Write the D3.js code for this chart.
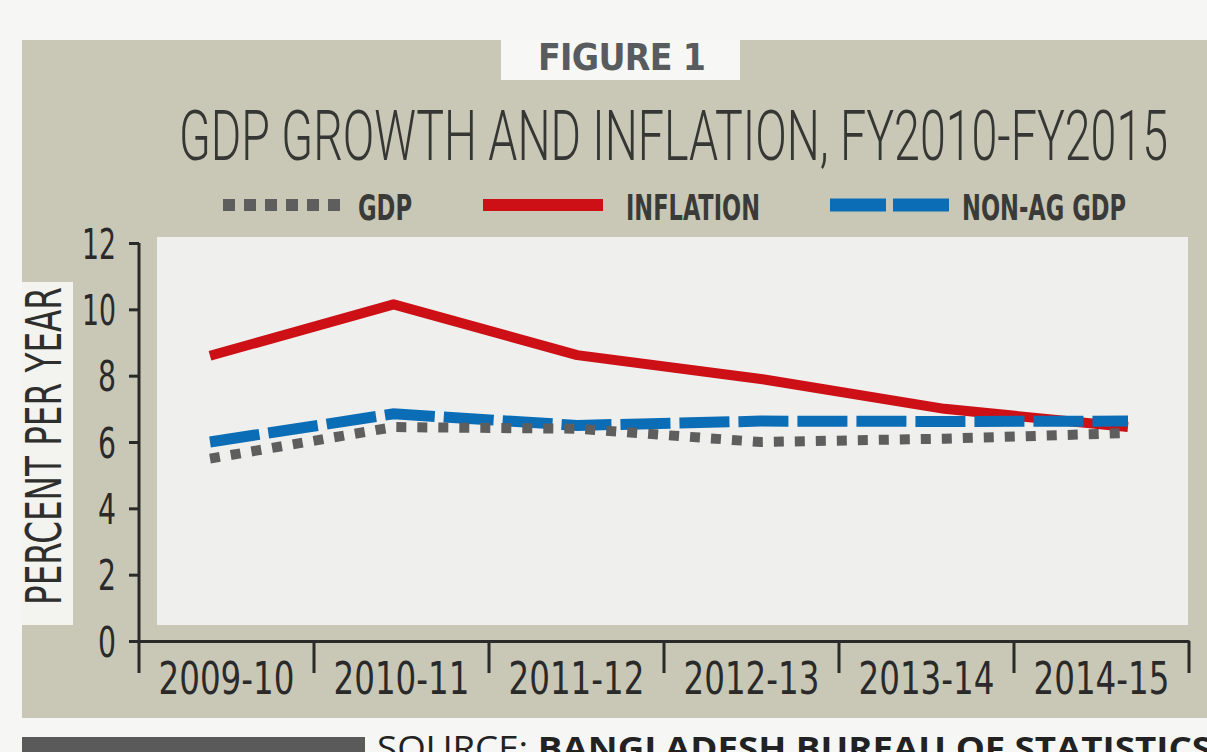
<!DOCTYPE html>
<html>
<head>
<meta charset="utf-8">
<script src="https://d3js.org/d3.v7.min.js"></script>
<style>
    body { margin: 0; background: #f6f6f5; }
    svg { display: block; }
</style>
</head>
<body>
<div id="chart"></div>
<script>
var width = 1207;
var height = 752;

// data
var years = ["2009-10", "2010-11", "2011-12", "2012-13", "2013-14", "2014-15"];
var gdp = [5.5, 6.45, 6.4, 6.0, 6.1, 6.27];
var inflation = [8.6, 10.15, 8.62, 7.9, 7.0, 6.45];
var nonAgGdp = [6.0, 6.85, 6.5, 6.63, 6.62, 6.63];
var yTicks = [0, 2, 4, 6, 8, 10, 12];

var narrow = "'Liberation Sans Narrow', 'DejaVu Sans Condensed', 'Roboto', sans-serif";
var svgElement;

function main() {
    svgElement = d3.select("#chart").append("svg")
        .attr("width", width)
        .attr("height", height);

    drawBackground();
    drawHeader();
    drawLegend();
    drawAxes();
    drawLines();
    drawSource();
}

function drawBackground() {
    svgElement.append("rect")
        .attr("x", 0).attr("y", 0)
        .attr("width", width).attr("height", height)
        .attr("fill", "#f6f6f5");

    // khaki panel
    svgElement.append("rect")
        .attr("x", 22).attr("y", 40)
        .attr("width", width - 22).attr("height", 678)
        .attr("fill", "#c9c8b6");

    // plot area
    svgElement.append("rect")
        .attr("x", 157).attr("y", 237)
        .attr("width", 1031).attr("height", 388)
        .attr("fill", "#efefee");

    // box behind the y label
    svgElement.append("rect")
        .attr("x", 22).attr("y", 282)
        .attr("width", 51).attr("height", 343)
        .attr("fill", "#f3f3ef");
}

function drawHeader() {
    svgElement.append("rect")
        .attr("x", 501).attr("y", 40)
        .attr("width", 239).attr("height", 40)
        .attr("fill", "#f7f7f6");

    svgElement.append("text")
        .attr("x", 538).attr("y", 70)
        .attr("textLength", 168)
        .attr("lengthAdjust", "spacing")
        .style("font-family", narrow)
        .style("font-weight", "bold")
        .style("font-size", "37px")
        .attr("fill", "#585c5e")
        .text("FIGURE 1");

    svgElement.append("text")
        .attr("x", 179).attr("y", 160)
        .attr("textLength", 989)
        .attr("lengthAdjust", "spacingAndGlyphs")
        .style("font-family", "Roboto, sans-serif")
        .style("font-weight", 300)
        .style("font-size", "70px")
        .attr("fill", "#363634")
        .text("GDP GROWTH AND INFLATION, FY2010-FY2015");
}

function drawLegend() {
    var items = [
        {name: "GDP", x0: 223, x1: 342, tx: 358, tw: 54, color: "#5e5e5e", w: 12, dash: "12,9"},
        {name: "INFLATION", x0: 483, x1: 603, tx: 626, tw: 134, color: "#cc1016", w: 12, dash: null},
        {name: "NON-AG GDP", x0: 830, x1: 950, tx: 962, tw: 164, color: "#0b6db6", w: 13, dash: "56,7"}
    ];
    var g = svgElement.append("g");
    items.forEach(function (d) {
        g.append("line")
            .attr("x1", d.x0).attr("x2", d.x1)
            .attr("y1", 205).attr("y2", 205)
            .attr("stroke", d.color)
            .attr("stroke-width", d.w)
            .attr("stroke-dasharray", d.dash);
        g.append("text")
            .attr("x", d.tx).attr("y", 220)
            .attr("textLength", d.tw)
            .attr("lengthAdjust", "spacingAndGlyphs")
            .style("font-family", narrow)
            .style("font-weight", "bold")
            .style("font-size", "35px")
            .attr("fill", "#3a3a38")
            .text(d.name);
    });
}

var y = d3.scaleLinear().domain([0, 12]).range([641, 243]);
var xBand = d3.scaleBand().domain(years).range([139, 1189]);
var xPoint = d3.scalePoint().domain(years).range([210, 1128]);

function drawAxes() {
    var yAxis = svgElement.append("g")
        .attr("transform", "translate(139,0)")
        .call(d3.axisLeft(y).tickValues(yTicks).tickSize(10).tickSizeOuter(0).tickPadding(13));
    yAxis.select(".domain").remove();
    yAxis.selectAll(".tick line").attr("stroke", "#2a2a2a").attr("stroke-width", 3);
    yAxis.selectAll(".tick text")
        .attr("dy", "0.36em")
        .attr("textLength", function (d) { return d < 10 ? 18 : 34; })
        .attr("lengthAdjust", "spacingAndGlyphs")
        .style("font-family", narrow)
        .style("font-size", "42px")
        .attr("fill", "#2a2a2a");

    // y axis line, runs down past zero
    svgElement.append("line")
        .attr("x1", 139).attr("x2", 139)
        .attr("y1", y(12)).attr("y2", 673)
        .attr("stroke", "#2a2a2a").attr("stroke-width", 3);

    var xAxis = svgElement.append("g")
        .attr("transform", "translate(0," + y(0) + ")")
        .call(d3.axisBottom(xBand).tickSize(0).tickSizeOuter(0).tickPadding(10));
    xAxis.select(".domain").attr("stroke", "#2a2a2a").attr("stroke-width", 3);
    xAxis.selectAll(".tick text")
        .attr("dy", "0.95em")
        .attr("textLength", 136)
        .attr("lengthAdjust", "spacingAndGlyphs")
        .style("font-family", narrow)
        .style("font-size", "45px")
        .attr("fill", "#2a2a2a");

    // separators between years
    var bounds = years.slice(1).map(function (d) { return xBand(d); });
    bounds.push(xBand.range()[1]);
    svgElement.selectAll(".sep")
        .data(bounds)
        .enter().append("line")
        .attr("class", "sep")
        .attr("x1", function (d) { return d; })
        .attr("x2", function (d) { return d; })
        .attr("y1", y(0)).attr("y2", 673)
        .attr("stroke", "#2a2a2a").attr("stroke-width", 3);

    svgElement.append("text")
        .attr("transform", "translate(61,446) rotate(-90)")
        .attr("text-anchor", "middle")
        .attr("textLength", 318)
        .attr("lengthAdjust", "spacingAndGlyphs")
        .style("font-family", narrow)
        .style("font-size", "50px")
        .attr("fill", "#2e2e2c")
        .text("PERCENT PER YEAR");
}

function drawLines() {
    var line = d3.line()
        .x(function (d, i) { return xPoint(years[i]); })
        .y(function (d) { return y(d); });

    svgElement.append("path")
        .attr("d", line(inflation))
        .attr("fill", "none")
        .attr("stroke", "#cc1016")
        .attr("stroke-width", 10)
        .attr("stroke-linejoin", "round");

    svgElement.append("path")
        .attr("d", line(nonAgGdp))
        .attr("fill", "none")
        .attr("stroke", "#0b6db6")
        .attr("stroke-width", 11)
        .attr("stroke-dasharray", "50,9");

    svgElement.append("path")
        .attr("d", line(gdp))
        .attr("fill", "none")
        .attr("stroke", "#5e5e5e")
        .attr("stroke-width", 10)
        .attr("stroke-dasharray", "10,11");
}

function drawSource() {
    svgElement.append("rect")
        .attr("x", 22).attr("y", 737)
        .attr("width", 343).attr("height", 20)
        .attr("fill", "#5a5a5a");

    // the source line is clipped by the bottom edge, as in the original
    var t = svgElement.append("text")
        .attr("x", 377).attr("y", 760)
        .attr("textLength", 835)
        .attr("lengthAdjust", "spacingAndGlyphs")
        .style("font-family", "'Open Sans', 'DejaVu Sans', sans-serif")
        .style("font-size", "33px")
        .attr("fill", "#222");
    t.append("tspan").text("SOURCE: ");
    t.append("tspan").style("font-weight", "bold").text("BANGLADESH BUREAU OF STATISTICS");
}

main();
</script>
</body>
</html>
